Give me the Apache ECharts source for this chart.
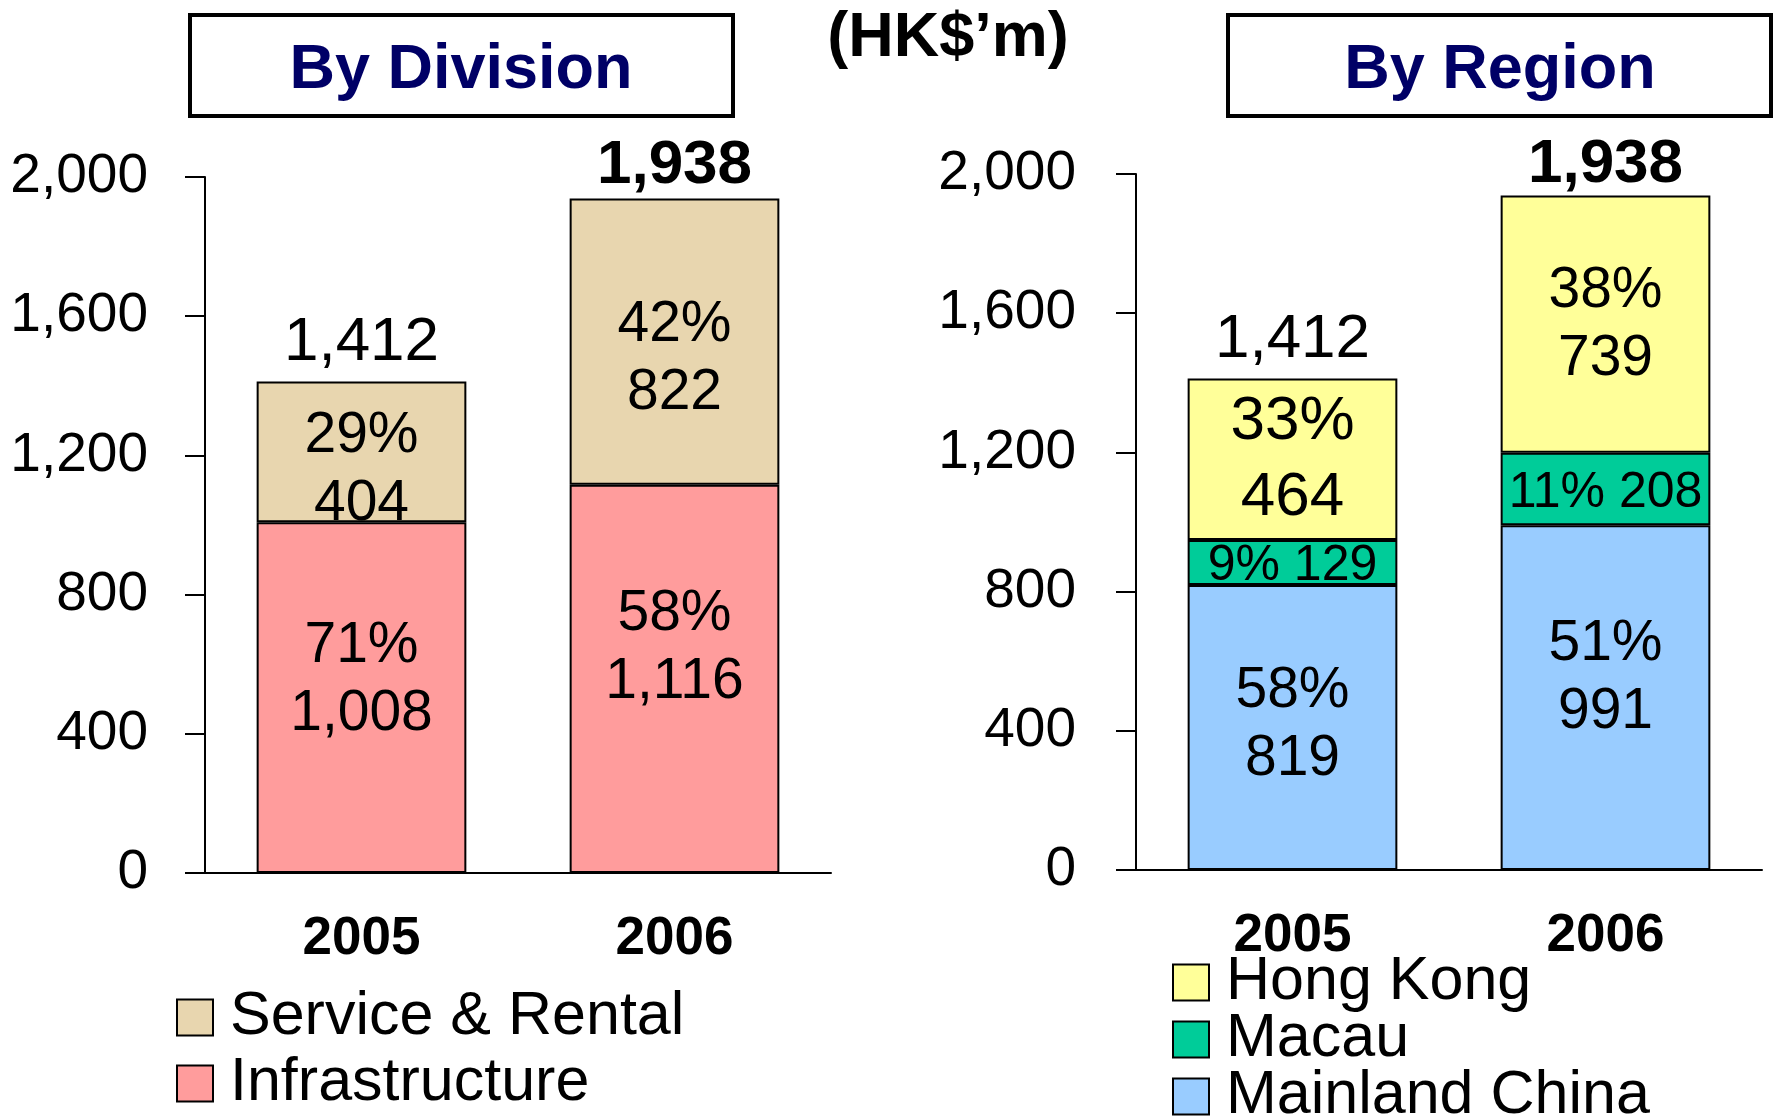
<!DOCTYPE html>
<html>
<head>
<meta charset="utf-8">
<script src="https://cdn.jsdelivr.net/npm/echarts@6/dist/echarts.min.js"></script>
<style>
html,body{margin:0;padding:0;background:#fff;}
#main{width:1784px;height:1116px;}
</style>
</head>
<body>
<div id="main"></div>
<script>
// data (HK$'m)
var years = ['2005', '2006'];
var yMax = 2000;
var yStep = 400;
var totals = [1412, 1938];

var infrastructure = [1008, 1116];
var serviceRental = [404, 822];
var infraPct = [71, 58];
var servicePct = [29, 42];

var mainlandChina = [819, 991];
var macau = [129, 208];
var hongKong = [464, 739];
var mainlandPct = [58, 51];
var macauPct = [9, 11];
var hongKongPct = [33, 38];

// label nudges (px), style only
var infraShift = [-17, -31];
var serviceShift = [18, 18];
var mainlandShift = [-2, -19];
var hongKongShift = [1, 1];
var macauShift = [4, 4];

var FONT = '"Liberation Sans", Arial, sans-serif';
var chart = echarts.init(document.getElementById('main'));

function fmt(v) { return Number(v).toLocaleString('en-US'); }

function xAxisCfg(idx) {
    return {
        type: 'category',
        gridIndex: idx,
        data: years,
        axisLine: {show: true, lineStyle: {color: '#000', width: 2}},
        axisTick: {show: false},
        axisLabel: {color: '#000', fontFamily: FONT, fontWeight: 'bold', fontSize: 53, margin: 40}
    };
}
function yAxisCfg(idx, margin) {
    return {
        type: 'value',
        gridIndex: idx,
        min: 0,
        max: yMax,
        interval: yStep,
        axisLine: {show: true, lineStyle: {color: '#000', width: 2}},
        axisTick: {show: true, length: 20, lineStyle: {color: '#000', width: 2}},
        splitLine: {show: false},
        axisLabel: {color: '#000', fontFamily: FONT, fontSize: 55, margin: margin, formatter: fmt}
    };
}

function segData(values, shift, big) {
    return values.map(function (v, i) {
        var item = {value: v, label: {offset: [0, shift[i]]}};
        if (big && big[i]) { item.label.fontSize = 62; item.label.lineHeight = 76; }
        return item;
    });
}

function stackSeries(name, stack, ax, values, pcts, color, shift, big) {
    return {
        name: name,
        type: 'bar',
        stack: stack,
        xAxisIndex: ax,
        yAxisIndex: ax,
        barWidth: '67%',
        barGap: '-100%',
        itemStyle: {color: color, borderColor: '#000', borderWidth: 2},
        label: {
            show: true,
            position: 'inside',
            color: '#000',
            fontFamily: FONT,
            fontSize: 57,
            lineHeight: 68,
            formatter: function (p) { return pcts[p.dataIndex] + '%\n' + fmt(p.value); }
        },
        data: segData(values, shift, big)
    };
}

function totalSeries(ax) {
    return {
        name: 'total' + ax,
        type: 'bar',
        xAxisIndex: ax,
        yAxisIndex: ax,
        barWidth: '67%',
        barGap: '-100%',
        z: 1,
        silent: true,
        itemStyle: {color: 'rgba(0,0,0,0)'},
        label: {
            show: true,
            position: 'top',
            distance: 8,
            color: '#000',
            fontFamily: FONT,
            fontSize: 62,
            formatter: function (p) { return fmt(p.value); }
        },
        data: totals.map(function (v, i) {
            return i === 1
                ? {value: v, label: {fontWeight: 'bold', distance: ax === 0 ? 2 : 0}}
                : {value: v};
        })
    };
}

var macauSeries = stackSeries('Macau', 'reg', 1, macau, macauPct, '#00CC99', macauShift);
macauSeries.label.fontSize = 50;
macauSeries.label.formatter = function (p) { return macauPct[p.dataIndex] + '% ' + fmt(p.value); };

function legendCfg(names, left, top, gap) {
    return {
        data: names,
        orient: 'vertical',
        left: left,
        top: top,
        height: 400,
        padding: 0,
        itemWidth: 36,
        itemHeight: 36,
        itemGap: gap,
        icon: 'rect',
        selectedMode: false,
        itemStyle: {borderColor: '#000', borderWidth: 2},
        textStyle: {color: '#000', fontFamily: FONT, fontSize: 61, padding: [0, 0, 0, 12]}
    };
}

var option = {
    animation: false,
    backgroundColor: '#fff',
    grid: [
        {left: 205, right: 953, top: 177, bottom: 243},
        {left: 1136, right: 22, top: 174, bottom: 246}
    ],
    xAxis: [xAxisCfg(0), xAxisCfg(1)],
    yAxis: [yAxisCfg(0, 57), yAxisCfg(1, 60)],
    legend: [
        legendCfg(['Service & Rental', 'Infrastructure'], 176, 987, 5),
        legendCfg(['Hong Kong', 'Macau', 'Mainland China'], 1172, 952, -4)
    ],
    graphic: [
        {type: 'rect', shape: {x: 190, y: 15, width: 543, height: 101},
         style: {fill: '#fff', stroke: '#000', lineWidth: 4}},
        {type: 'text', x: 461, y: 71,
         style: {text: 'By Division', fill: '#000066', font: 'bold 63px ' + FONT, textAlign: 'center', textVerticalAlign: 'middle'}},
        {type: 'text', x: 948, y: 39,
         style: {text: '(HK$\u2019m)', fill: '#000', font: 'bold 63px ' + FONT, textAlign: 'center', textVerticalAlign: 'middle'}},
        {type: 'rect', shape: {x: 1228, y: 15, width: 543, height: 101},
         style: {fill: '#fff', stroke: '#000', lineWidth: 4}},
        {type: 'text', x: 1500, y: 71,
         style: {text: 'By Region', fill: '#000066', font: 'bold 63px ' + FONT, textAlign: 'center', textVerticalAlign: 'middle'}}
    ],
    series: [
        totalSeries(0),
        stackSeries('Infrastructure', 'div', 0, infrastructure, infraPct, '#FF9C9C', infraShift),
        stackSeries('Service & Rental', 'div', 0, serviceRental, servicePct, '#E8D6AF', serviceShift),
        totalSeries(1),
        stackSeries('Mainland China', 'reg', 1, mainlandChina, mainlandPct, '#99CCFF', mainlandShift),
        macauSeries,
        stackSeries('Hong Kong', 'reg', 1, hongKong, hongKongPct, '#FFFF99', hongKongShift, [true, false])
    ]
};

chart.setOption(option);
</script>
</body>
</html>
